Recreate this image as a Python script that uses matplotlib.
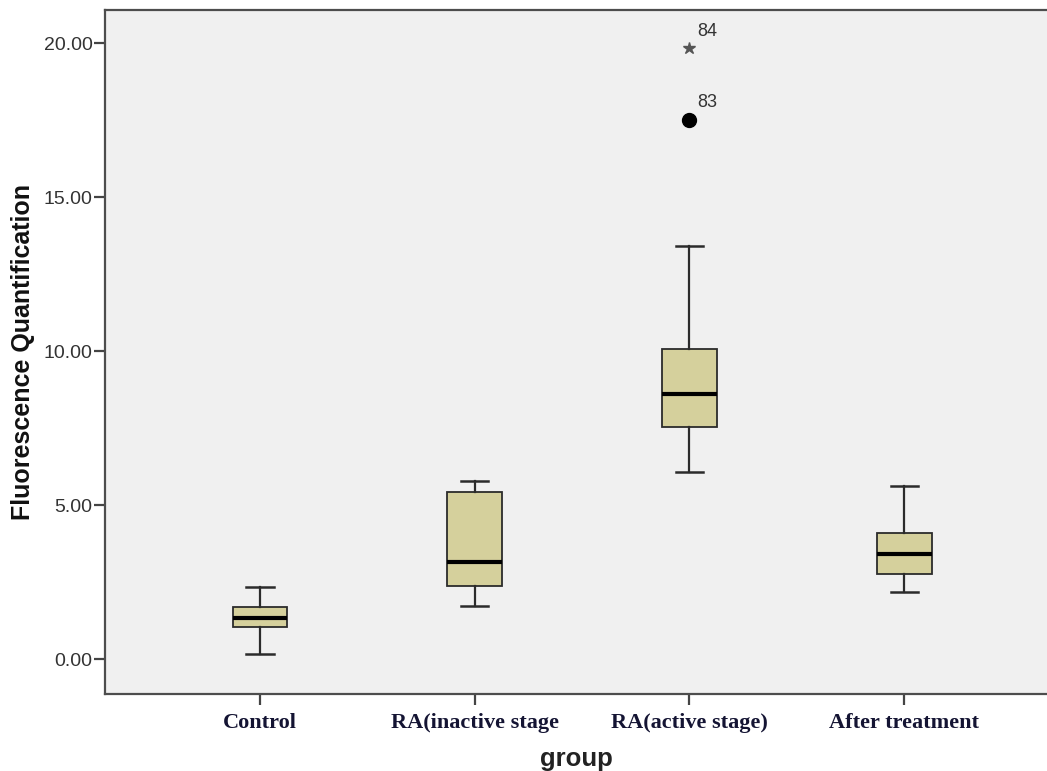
import numpy as np
import matplotlib.pyplot as plt

groups = ['Control', 'RA(inactive stage', 'RA(active stage)', 'After treatment']
whislo = [0.16, 1.73, 6.07, 2.18]
q1 = [1.05, 2.38, 7.55, 2.76]
med = [1.34, 3.14, 8.61, 3.41]
q3 = [1.70, 5.42, 10.07, 4.10]
whishi = [2.36, 5.80, 13.43, 5.63]

# outliers: (group index, value, case id, kind)
out_group = [3, 3]
out_value = [17.51, 19.84]
out_id = ['83', '84']
out_kind = ['o', '*']

yticks = [0, 5, 10, 15, 20]

fig = plt.figure(figsize=(10.47, 7.71), dpi=100)
ax = fig.add_axes([0.1003, 0.0999, 0.8997, 0.8871])
ax.set_facecolor('#f0f0f0')

stats = []
for i in range(len(groups)):
    stats.append({'label': groups[i], 'whislo': whislo[i], 'q1': q1[i], 'med': med[i],
                  'q3': q3[i], 'whishi': whishi[i], 'fliers': []})

pos = np.arange(1, len(groups) + 1)
ax.bxp(stats, positions=pos, widths=0.256, capwidths=0.126, patch_artist=True,
       showfliers=False,
       boxprops=dict(facecolor='#d5d09c', edgecolor='#2b2b2b', linewidth=1.3),
       medianprops=dict(color='black', linewidth=3.0, solid_capstyle='butt'),
       whiskerprops=dict(color='#2b2b2b', linewidth=1.6),
       capprops=dict(color='#2b2b2b', linewidth=1.8))

for g, v, lab, k in zip(out_group, out_value, out_id, out_kind):
    if k == 'o':
        ax.plot(g, v, 'o', color='black', markersize=10)
    else:
        ax.plot(g, v, '*', color='#555555', markersize=9)
    ax.annotate(lab, (g, v), xytext=(6, 9), textcoords='offset points',
                fontsize=13, color='#333333', family='Liberation Sans')

ax.set_xlim(0.278, 4.666)
ax.set_ylim(-1.13, 21.08)
ax.set_yticks(yticks)
ax.set_yticklabels(['%.2f' % t for t in yticks], family='Liberation Sans',
                   fontsize=14, color='#333333')
ax.set_xticks(pos)
ax.set_xticklabels(groups, family='Liberation Serif', fontweight='bold',
                   fontsize=16, color='#141433')

for s in ['left', 'bottom', 'top']:
    ax.spines[s].set_color('#4d4d4d')
    ax.spines[s].set_linewidth(1.6)
ax.spines['right'].set_visible(False)
ax.tick_params(axis='y', length=8, width=1.6, color='#444444', pad=1)
ax.tick_params(axis='x', length=8, width=1.6, color='#444444', pad=6)

ax.set_ylabel('Fluorescence Quantification', family='Liberation Sans',
              fontweight='bold', fontsize=18, color='#111111', labelpad=6)
ax.set_xlabel('group', family='Liberation Sans', fontweight='bold',
              fontsize=18.5, color='#222222', labelpad=10)

fig.savefig('out.png', dpi=100)
